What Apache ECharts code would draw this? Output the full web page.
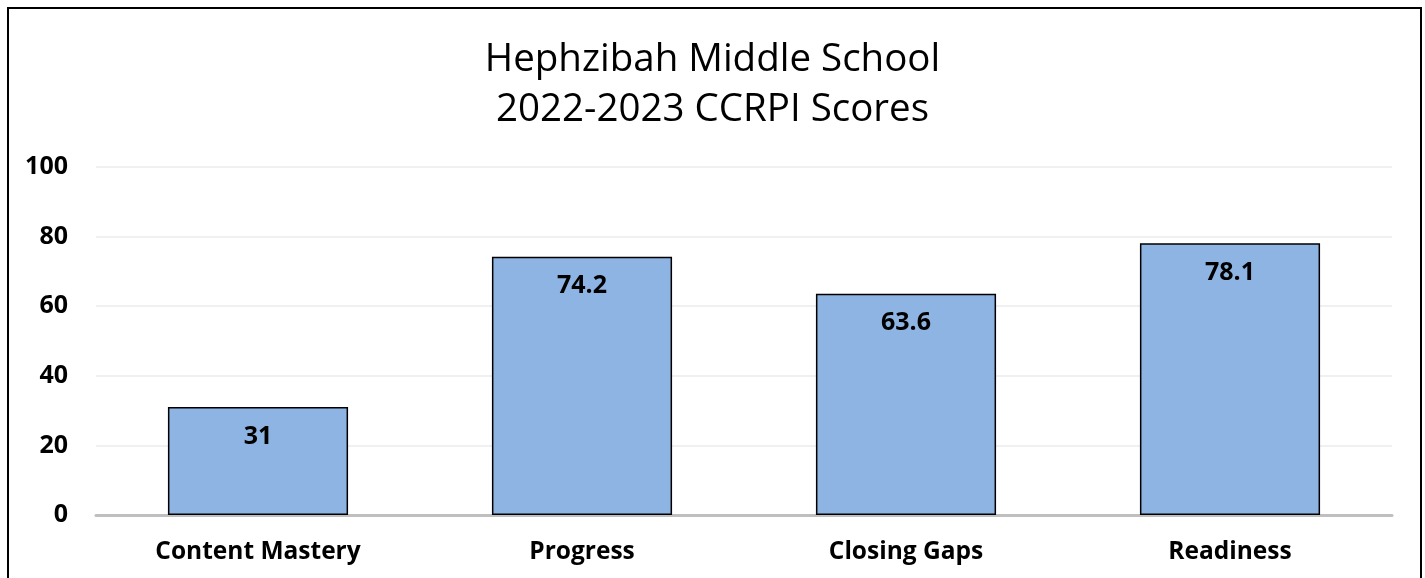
<!DOCTYPE html>
<html><head><meta charset="utf-8">
<script src="https://cdn.jsdelivr.net/npm/echarts@6/dist/echarts.min.js"></script>
<style>html,body{margin:0;padding:0;background:#fff}#c{width:1425px;height:578px}</style>
</head><body><div id="c"></div>
<script>
const categories = ['Content Mastery', 'Progress', 'Closing Gaps', 'Readiness'];
const scores = [31, 74.2, 63.6, 78.1];
const titleLines = ['Hephzibah Middle School', '2022-2023 CCRPI Scores'];
const yTicks = { min: 0, max: 100, interval: 20 };

const chart = echarts.init(document.getElementById('c'), null, { renderer: 'canvas' });
const font = '"Open Sans", "Noto Sans", sans-serif';
chart.setOption({
  animation: false,
  backgroundColor: '#fff',
  title: {
    text: titleLines.join('\n'),
    left: 'center', top: 30,
    textStyle: { fontFamily: font, fontSize: 38.5, fontWeight: 'normal', color: '#000', lineHeight: 50 }
  },
  graphic: [{
    type: 'rect', shape: { x: 8, y: 8, width: 1413, height: 600 },
    style: { fill: 'none', stroke: '#000', lineWidth: 2 }, z: 100
  }],
  grid: { left: 96, right: 33, top: 167, bottom: 63 },
  xAxis: {
    type: 'category', data: categories,
    axisLine: { lineStyle: { color: '#BFBFBF', width: 3 } },
    axisTick: { show: false },
    axisLabel: { fontFamily: font, fontSize: 24.5, fontWeight: 'bold', color: '#000', margin: 25 }
  },
  yAxis: {
    type: 'value', min: yTicks.min, max: yTicks.max, interval: yTicks.interval,
    axisLine: { show: false }, axisTick: { show: false },
    axisLabel: { fontFamily: font, fontSize: 25, fontWeight: 'bold', color: '#000', margin: 28 },
    splitLine: { lineStyle: { color: '#EBEBEB', width: 1.5 } }
  },
  series: [{
    type: 'bar', data: scores, barWidth: '55.6%',
    itemStyle: { color: '#8DB4E2', borderColor: '#000', borderWidth: 1.5 },
    label: {
      show: true, position: 'insideTop', distance: 17,
      fontFamily: font, fontSize: 25, fontWeight: 'bold', color: '#000'
    }
  }]
});
</script></body></html>
